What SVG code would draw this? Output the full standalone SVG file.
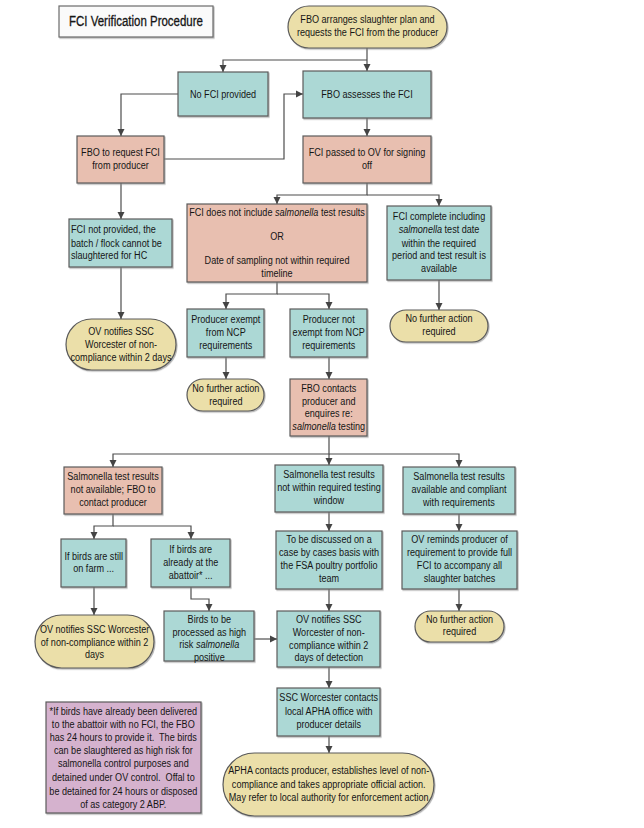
<svg xmlns="http://www.w3.org/2000/svg" width="644" height="828" viewBox="0 0 644 828">
<style>
text{font-family:"Liberation Sans Narrow","Liberation Sans",Arial,sans-serif;font-size:11.5px;fill:#151515;text-anchor:middle;white-space:pre;transform-box:fill-box;transform-origin:center;transform:scaleX(0.79)}
.l{text-anchor:start;transform-origin:left center}
.i{font-style:italic}
.t{font-size:14px;stroke:#151515;stroke-width:0.3;transform:scaleX(0.82)}
.teal,.sal,.tan,.pur,.ttl{stroke:#5a5a5a;stroke-width:1.2;filter:url(#sh)}
.teal{fill:#acd8d5}
.sal{fill:#e8bfb0}
.tan{fill:#ebdfa9}
.pur{fill:#d5b2ce}
.ttl{fill:#fafafa;stroke:#6a6a6a}
.c{fill:none;stroke:#4d4d4d;stroke-width:1.2;marker-end:url(#a)}
</style>
<defs>
<marker id="a" markerUnits="userSpaceOnUse" markerWidth="8" markerHeight="8" refX="7" refY="4" orient="auto">
<path d="M0,0.5 L7,4 L0,7.5 Z" fill="#444"/>
</marker>
<filter id="sh" x="-5%" y="-5%" width="115%" height="120%">
<feDropShadow dx="1" dy="1.2" stdDeviation="0.6" flood-color="#888" flood-opacity="0.6"/>
</filter>
</defs>
<rect width="644" height="828" fill="#fff"/>

<g id="connectors">
<path class="c" d="M367,48 V71"/>
<path class="c" d="M367,60 H223 V72"/>
<path class="c" d="M178,94 H121 V136"/>
<path class="c" d="M164,159 H284 V94 H303"/>
<path class="c" d="M367,118 V136"/>
<path class="c" d="M367,183 V195 H277 V204"/>
<path class="c" d="M367,195 H439 V206"/>
<path class="c" d="M121,183 V219"/>
<path class="c" d="M121,267 V319"/>
<path class="c" d="M277,282 V294 H226 V309"/>
<path class="c" d="M277,294 H329 V309"/>
<path class="c" d="M439,280 V310"/>
<path class="c" d="M226,357 V379"/>
<path class="c" d="M329,357 V379"/>
<path class="c" d="M329,436 V454 H113 V467"/>
<path class="c" d="M329,454 V465"/>
<path class="c" d="M329,454 H459 V467"/>
<path class="c" d="M113,514 V526 H94 V539"/>
<path class="c" d="M113,526 H191 V539"/>
<path class="c" d="M94,587 V615"/>
<path class="c" d="M191,587 V599 H209 V611"/>
<path class="c" d="M254,639 H277"/>
<path class="c" d="M329,512 V531"/>
<path class="c" d="M329,589 V611"/>
<path class="c" d="M459,514 V531"/>
<path class="c" d="M459,589 V611"/>
<path class="c" d="M329,667 V688"/>
<path class="c" d="M329,736 V753"/>
</g>

<g id="title">
<rect class="ttl" x="59" y="6" width="154" height="31"/>
<text class="t" x="136" y="26">FCI Verification Procedure</text>
</g>

<g id="start">
<rect class="tan" x="288" y="6" width="159" height="42" rx="21"/>
<text x="367.5" y="23">FBO arranges slaughter plan and</text>
<text x="367.5" y="36.5">requests the FCI from the producer</text>
</g>

<g id="no-fci">
<rect class="teal" x="178" y="72" width="90" height="44"/>
<text x="223" y="98">No FCI provided</text>
</g>

<g id="assesses">
<rect class="teal" x="303" y="71" width="128" height="47"/>
<text x="367" y="97.7">FBO assesses the FCI</text>
</g>

<g id="request">
<rect class="sal" x="77" y="136" width="87" height="47"/>
<text x="120.5" y="156">FBO to request FCI</text>
<text x="120.5" y="168.7">from producer</text>
</g>

<g id="passed">
<rect class="sal" x="303" y="136" width="128" height="47"/>
<text x="367" y="156">FCI passed to OV for signing</text>
<text x="367" y="168.7">off</text>
</g>

<g id="not-provided">
<rect class="teal" x="69" y="219" width="103" height="48"/>
<text class="l" x="71" y="233.3">FCI not provided, the</text>
<text class="l" x="71" y="246.7">batch / flock cannot be</text>
<text class="l" x="71" y="259.3">slaughtered for HC</text>
</g>

<g id="ov-notifies-1">
<rect class="tan" x="66" y="319" width="110" height="51" rx="25.5"/>
<text x="121" y="334.7">OV notifies SSC</text>
<text x="121" y="348">Worcester of non-</text>
<text x="121" y="360.7">compliance within 2 days</text>
</g>

<g id="no-salmonella">
<rect class="sal" x="187" y="204" width="180" height="78"/>
<text x="277" y="216">FCI does not include <tspan class="i">salmonella</tspan> test results</text>
<text x="277" y="240">OR</text>
<text x="277" y="264">Date of sampling not within required</text>
<text x="277" y="276.7">timeline</text>
</g>

<g id="complete">
<rect class="teal" x="387" y="206" width="104" height="74"/>
<text x="439" y="220.3">FCI complete including</text>
<text x="439" y="233.3"><tspan class="i">salmonella</tspan> test date</text>
<text x="439" y="246.7">within the required</text>
<text x="439" y="259.3">period and test result is</text>
<text x="439" y="272">available</text>
</g>

<g id="nfa-1">
<rect class="tan" x="390" y="310" width="98" height="32" rx="16"/>
<text x="439" y="322.3">No further action</text>
<text x="439" y="335.3">required</text>
</g>

<g id="exempt">
<rect class="teal" x="187" y="309" width="77" height="48"/>
<text x="225.8" y="323.3">Producer exempt</text>
<text x="225.8" y="336.3">from NCP</text>
<text x="225.8" y="349.3">requirements</text>
</g>

<g id="not-exempt">
<rect class="teal" x="290" y="309" width="77" height="48"/>
<text x="328.7" y="323.3">Producer not</text>
<text x="328.7" y="336.3">exempt from NCP</text>
<text x="328.7" y="349.3">requirements</text>
</g>

<g id="nfa-2">
<rect class="tan" x="187" y="379" width="77" height="32" rx="16"/>
<text x="225.8" y="391.7">No further action</text>
<text x="225.8" y="405">required</text>
</g>

<g id="fbo-contacts">
<rect class="sal" x="290" y="379" width="77" height="57"/>
<text x="328.7" y="391.7">FBO contacts</text>
<text x="328.7" y="405">producer and</text>
<text x="328.7" y="417.3">enquires re:</text>
<text x="328.7" y="430"><tspan class="i">salmonella</tspan> testing</text>
</g>

<g id="not-available">
<rect class="sal" x="64" y="467" width="98" height="47"/>
<text x="113" y="480">Salmonella test results</text>
<text x="113" y="493">not available; FBO to</text>
<text x="113" y="506">contact producer</text>
</g>

<g id="not-within">
<rect class="teal" x="275" y="465" width="108" height="47"/>
<text x="329" y="478.3">Salmonella test results</text>
<text x="329" y="491.5">not within required testing</text>
<text x="329" y="504">window</text>
</g>

<g id="compliant">
<rect class="teal" x="403" y="467" width="112" height="47"/>
<text x="459" y="480">Salmonella test results</text>
<text x="459" y="493">available and compliant</text>
<text x="459" y="506">with requirements</text>
</g>

<g id="on-farm">
<rect class="teal" x="61" y="539" width="65" height="48"/>
<text x="93.7" y="560">If birds are still</text>
<text x="93.7" y="572.3">on farm ...</text>
</g>

<g id="at-abattoir">
<rect class="teal" x="151" y="539" width="79" height="48"/>
<text x="190.7" y="553">If birds are</text>
<text x="190.7" y="566.3">already at the</text>
<text x="190.7" y="579">abattoir* ...</text>
</g>

<g id="discussed">
<rect class="teal" x="276" y="531" width="106" height="58"/>
<text x="329" y="543">To be discussed on a</text>
<text x="329" y="556.3">case by cases basis with</text>
<text x="329" y="569.3">the FSA poultry portfolio</text>
<text x="329" y="582">team</text>
</g>

<g id="ov-reminds">
<rect class="teal" x="402" y="531" width="115" height="58"/>
<text x="459.5" y="543">OV reminds producer of</text>
<text x="459.5" y="556.3">requirement to provide full</text>
<text x="459.5" y="569.3">FCI to accompany all</text>
<text x="459.5" y="582">slaughter batches</text>
</g>

<g id="ov-notifies-2">
<rect class="tan" x="35" y="615" width="119" height="53" rx="26.5"/>
<text x="94.5" y="633">OV notifies SSC Worcester</text>
<text x="94.5" y="645.7">of non-compliance within 2</text>
<text x="94.5" y="658.3">days</text>
</g>

<g id="high-risk">
<rect class="teal" x="164" y="611" width="90" height="50"/>
<text x="209.3" y="623">Birds to be</text>
<text x="209.3" y="635.7">processed as high</text>
<text x="209.3" y="648.3">risk <tspan class="i">salmonella</tspan></text>
<text x="209.3" y="661">positive</text>
</g>

<g id="ov-notifies-3">
<rect class="teal" x="277" y="611" width="103" height="56"/>
<text x="328.7" y="623">OV notifies SSC</text>
<text x="328.7" y="636.3">Worcester of non-</text>
<text x="328.7" y="648.7">compliance within 2</text>
<text x="328.7" y="661">days of detection</text>
</g>

<g id="nfa-3">
<rect class="tan" x="415" y="611" width="89" height="31" rx="15.5"/>
<text x="459.5" y="623">No further action</text>
<text x="459.5" y="635.3">required</text>
</g>

<g id="ssc-contacts">
<rect class="teal" x="277" y="688" width="103" height="48"/>
<text x="328.7" y="701.3">SSC Worcester contacts</text>
<text x="328.7" y="714.7">local APHA office with</text>
<text x="328.7" y="728">producer details</text>
</g>

<g id="apha">
<rect class="tan" x="223" y="753" width="211" height="63" rx="31.5"/>
<text x="328.7" y="774">APHA contacts producer, establishes level of non-</text>
<text x="328.7" y="787.7">compliance and takes appropriate official action.</text>
<text x="328.7" y="800.7">May refer to local authority for enforcement action</text>
</g>

<g id="note">
<rect class="pur" x="46" y="702" width="155" height="111"/>
<text x="123.3" y="714.7">*If birds have already been delivered</text>
<text x="123.3" y="728">to the abattoir with no FCI, the FBO</text>
<text x="123.3" y="740.7">has 24 hours to provide it.  The birds</text>
<text x="123.3" y="754">can be slaughtered as high risk for</text>
<text x="123.3" y="767.3">salmonella control purposes and</text>
<text x="123.3" y="781.3">detained under OV control.  Offal to</text>
<text x="123.3" y="794.7">be detained for 24 hours or disposed</text>
<text x="123.3" y="808">of as category 2 ABP.</text>
</g>
</svg>
